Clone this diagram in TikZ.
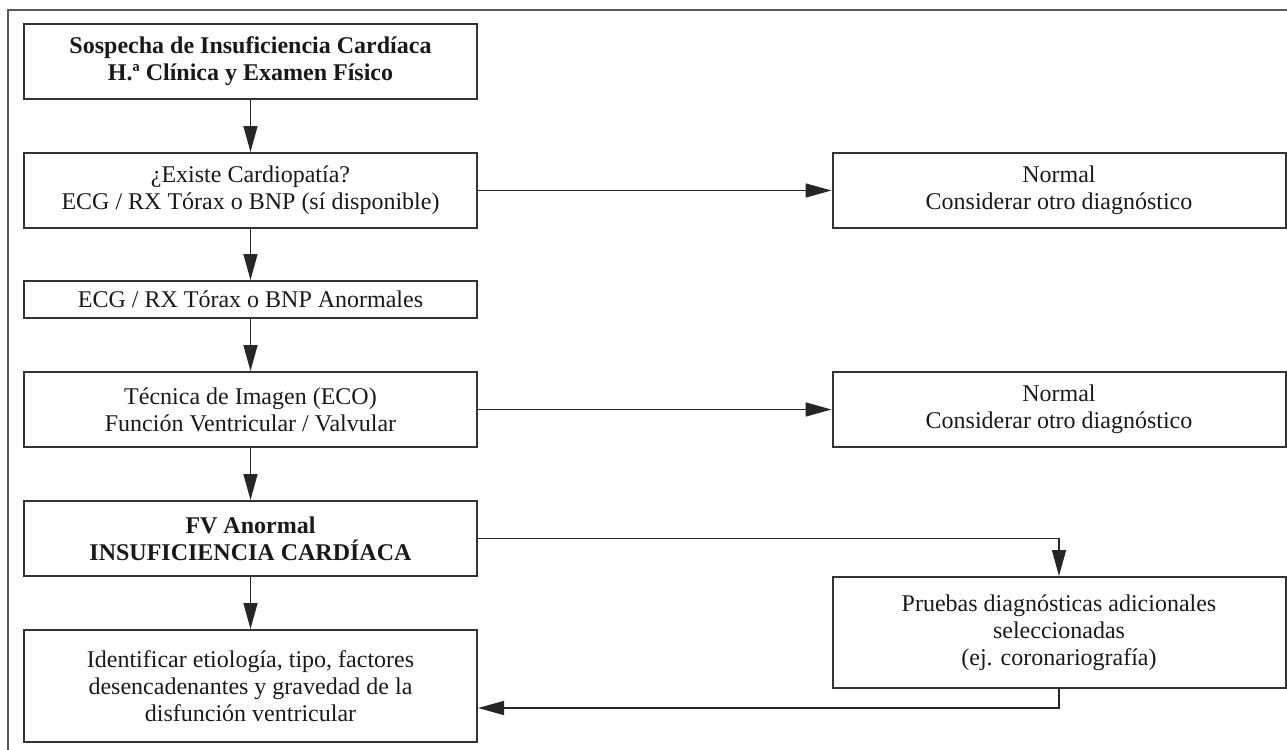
\documentclass[tikz,border=0pt]{standalone}
\usepackage{fontspec}
\setmainfont{Liberation Serif}
\usetikzlibrary{arrows.meta}
\begin{document}
\begin{tikzpicture}[x=0.5pt,y=-0.5pt,
  box/.style={draw=black!80, line width=1pt, minimum width=226.5pt,
    align=center, inner sep=2pt, text=black!90,
    font=\fontsize{12}{13.5}\selectfont},
  boldbox/.style={box, font=\fontsize{12}{13.5}\selectfont\bfseries},
  arr/.style={line width=0.75pt, draw=black!85,
    -{Triangle[length=13pt,width=7pt]}},
  frameline/.style={line width=1pt, draw=black!65}]
\useasboundingbox (0,0) rectangle (1287,750);

% outer frame (open at right and bottom)
\draw[frameline] (8,750) -- (8,9.5) -- (1287,9.5);

% main column
\node[boldbox, minimum height=37.5pt] (top) at (250.5,61.5)
  {Sospecha de Insuficiencia Cardíaca\\ H.ª Clínica y Examen Físico};
\node[box, minimum height=37.5pt] (b2) at (250.5,190.5)
  {¿Existe Cardiopatía?\\ ECG / RX Tórax o BNP (sí disponible)};
\node[box, minimum height=18.5pt] (b3) at (250.5,299.5)
  {ECG / RX Tórax o BNP Anormales};
\node[box, minimum height=37.5pt] (b4) at (250.5,409.5)
  {Técnica de Imagen (ECO)\\ Función Ventricular / Valvular};
\node[boldbox, minimum height=37.5pt] (b5) at (250.5,538.5)
  {FV Anormal\\ INSUFICIENCIA CARDÍACA};
\node[box, minimum height=56pt] (b6) at (250.5,686)
  {Identificar etiología, tipo, factores\\ desencadenantes y gravedad de la\\ disfunción ventricular};

% side column
\node[box, minimum height=37.5pt] (n1) at (1059,190.5)
  {Normal\\ Considerar otro diagnóstico};
\node[box, minimum height=37.5pt] (n2) at (1059,409.5)
  {Normal\\ Considerar otro diagnóstico};
\node[box, minimum height=55.5pt] (pr) at (1059,632.5)
  {Pruebas diagnósticas adicionales\\ seleccionadas\\ (ej. coronariografía)};

\coordinate (ret) at (1059,708);

% connectors
\draw[arr] (top) -- (b2);
\draw[arr] (b2) -- (n1);
\draw[arr] (b2) -- (b3);
\draw[arr] (b3) -- (b4);
\draw[arr] (b4) -- (n2);
\draw[arr] (b4) -- (b5);
\draw[arr] (b5) -- (b6);
\draw[arr] (b5.east) -| (pr.north);
\draw[arr] (pr.south) -- (ret) -- (ret -| b6.east);
\end{tikzpicture}
\end{document}
